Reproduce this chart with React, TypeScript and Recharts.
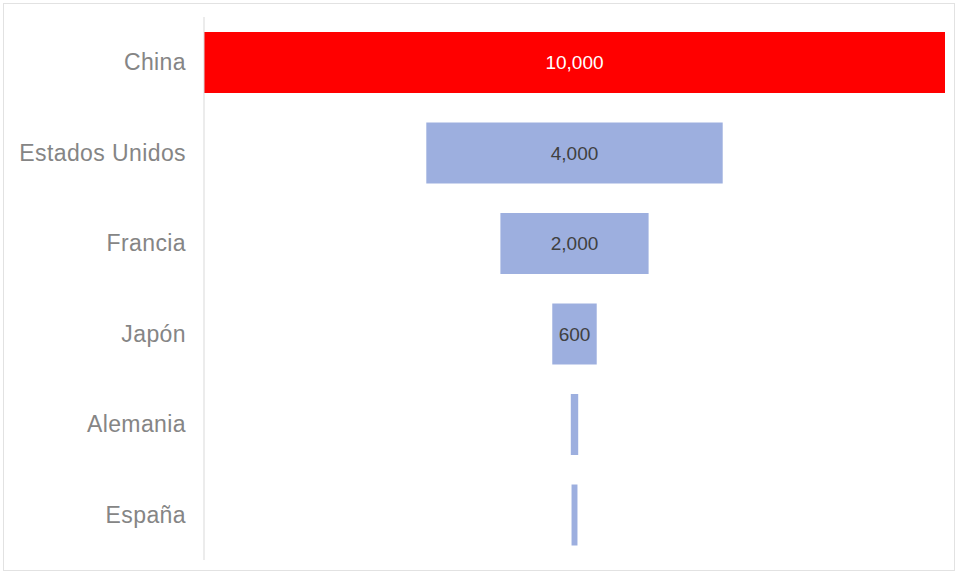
import React from 'react';
import { BarChart, Bar, XAxis, YAxis, Cell, LabelList } from 'recharts';

const categories = ['China', 'Estados Unidos', 'Francia', 'Japón', 'Alemania', 'España'];
const values = [10000, 4000, 2000, 600, 100, 80];
const highlighted = 'China';

const maxValue = Math.max(...values);
const data = categories.map((name, i) => ({
  name,
  value: values[i],
  // transparent spacer so each bar sits centred, funnel-style
  offset: (maxValue - values[i]) / 2,
}));

const RED = '#FF0000';
const BLUE = '#9DAFDF';

const renderLabel = (props: any) => {
  const { x, y, width, height, value, index } = props;
  if (width < 30) return null;
  return (
    <text
      x={x + width / 2}
      y={y + height / 2}
      textAnchor="middle"
      dominantBaseline="central"
      fill={categories[index] === highlighted ? '#FFFFFF' : '#404040'}
      fontSize={19}
      fontFamily="'Liberation Sans', Arial, sans-serif"
    >
      {Number(value).toLocaleString('en-US')}
    </text>
  );
};

export default function App() {
  return (
    <div style={{ position: 'absolute', left: 0, top: 0, width: 961, height: 575, background: '#fff' }}>
      <div
        style={{
          position: 'absolute',
          left: 3,
          top: 3,
          width: 952,
          height: 568,
          border: '1px solid #e2e2e2',
          boxSizing: 'border-box',
        }}
      />
      <div style={{ position: 'absolute', left: 0, top: 0 }}>
        <BarChart
          layout="vertical"
          width={961}
          height={575}
          data={data}
          margin={{ top: 17, right: 16, bottom: 15, left: 0 }}
        >
          <XAxis type="number" hide domain={[0, maxValue]} />
          <YAxis
            type="category"
            dataKey="name"
            width={204}
            axisLine={{ stroke: '#d9d9d9' }}
            tickLine={false}
            tickSize={0}
            tickMargin={18}
            tick={{
              fill: '#858585',
              fontSize: 23,
              letterSpacing: 0.4,
              fontFamily: "'Liberation Sans', Arial, sans-serif",
            }}
          />
          <Bar dataKey="offset" stackId="f" fill="transparent" barSize={61} isAnimationActive={false} />
          <Bar dataKey="value" stackId="f" barSize={61} isAnimationActive={false}>
            {data.map((d) => (
              <Cell key={d.name} fill={d.name === highlighted ? RED : BLUE} />
            ))}
            <LabelList dataKey="value" content={renderLabel} />
          </Bar>
        </BarChart>
      </div>
    </div>
  );
}
